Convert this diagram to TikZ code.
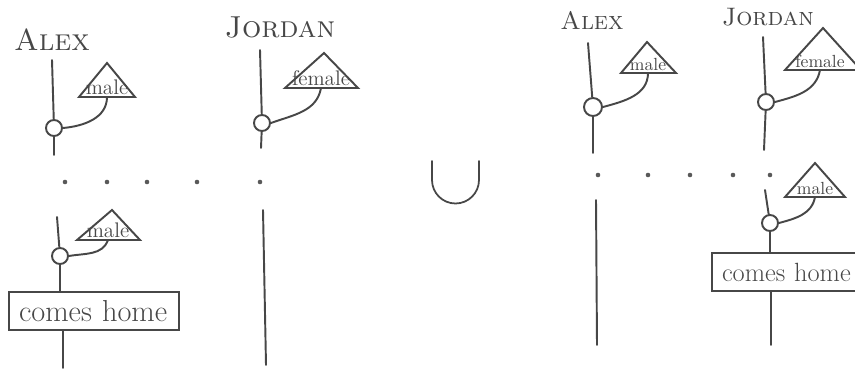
\documentclass[tikz,border=0pt]{standalone}
\usetikzlibrary{positioning}
\tikzset{
  ink/.style={draw=black!72, line width=1.1pt, line cap=round},
  who/.style={font=\LARGE\scshape, text=black!72},
  whosmall/.style={font=\Large\scshape, text=black!72},
  event/.style={circle, ink, inner sep=0pt, minimum size=0.32cm},
  kind/.style={font=\large, text=black!72, inner sep=1pt, anchor=south},
  action/.style={rectangle, ink, font=\LARGE, text=black!72, align=left,
    text width=3cm, inner xsep=0.2cm, inner ysep=0pt, minimum height=0.76cm},
  tick/.style={circle, fill=black!65, inner sep=0pt, minimum size=2.6pt}
}
\begin{document}
\begin{tikzpicture}[x=0.02cm, y=-0.02cm]
    \useasboundingbox (0,0) rectangle (855,372);

    % Linke Seite: Namen
    \node[who] (alexL) at (52,40) {Alex};
    \node[who] (jordanL) at (280,27) {Jordan};

    % Alex oben
    \coordinate (aL1) at (52,60);
    \coordinate (aL2) at (54,155);
    \node[event] (c1) at (54,128) {};
    \draw[ink] (aL1) -- (c1);
    \draw[ink] (c1) -- (aL2);
    \draw[ink] (107,63) -- (79,97) -- (135,97) -- cycle;
    \node[kind] (k1) at (107,97) {male};
    \draw[ink] (k1.south) to[out=-90, in=5] (c1.east);

    % Jordan oben
    \coordinate (jL1) at (260,50);
    \coordinate (jL2) at (261,148);
    \node[event] (c2) at (262,123) {};
    \draw[ink] (jL1) -- (c2);
    \draw[ink] (c2) -- (jL2);
    \draw[ink] (324,53) -- (285,88) -- (358,88) -- cycle;
    \node[kind] (k2) at (321,88) {female};
    \draw[ink] (k2.south) to[out=-100, in=20] (c2.east);

    % Punkte
    \foreach \x in {65,107,147,197,260}
        \node[tick] at (\x,182) {};

    % Alex unten
    \coordinate (aL3) at (57,217);
    \coordinate (aL4) at (63,368);
    \node[event] (c3) at (60,256) {};
    \node[action] (b1) at (94,311) {comes home};
    \draw[ink] (aL3) -- (c3);
    \draw[ink] (c3) -- (c3 |- b1.north);
    \draw[ink] (b1.south -| aL4) -- (aL4);
    \draw[ink] (112,210) -- (77,240) -- (140,240) -- cycle;
    \node[kind] (k3) at (108,240) {male};
    \draw[ink] (k3.south) to[out=-110, in=10] (c3.east);

    % Jordan unten
    \coordinate (jL3) at (263,210);
    \coordinate (jL4) at (266,365);
    \draw[ink] (jL3) -- (jL4);

    % Vereinigung
    \draw[ink, line width=1pt] (432,161) -- (432,180) arc[start angle=180, end angle=0, radius=23.5] -- (479,161);

    % Rechte Seite: Namen
    \node[whosmall] (alexR) at (592,20) {Alex};
    \node[whosmall] (jordanR) at (768,17) {Jordan};

    % Alex rechts
    \coordinate (aR1) at (588,43);
    \coordinate (aR2) at (593,153);
    \coordinate (aR3) at (596,200);
    \coordinate (aR4) at (597,345);
    \node[event, minimum size=0.36cm] (c4) at (593,107) {};
    \draw[ink] (aR1) -- (c4);
    \draw[ink] (c4) -- (aR2);
    \draw[ink] (aR3) -- (aR4);
    \draw[ink] (647,42) -- (621,73) -- (676,73) -- cycle;
    \node[kind, font=\normalsize] (k4) at (648,73) {male};
    \draw[ink] (k4.south) to[out=-90, in=15] (c4.east);

    % Jordan rechts oben
    \coordinate (jR1) at (763,37);
    \coordinate (jR2) at (764,150);
    \node[event] (c5) at (766,102) {};
    \draw[ink] (jR1) -- (c5);
    \draw[ink] (c5) -- (jR2);
    \draw[ink] (823,28) -- (785,70) -- (861,70) -- cycle;
    \node[kind, font=\normalsize] (k5) at (820,70) {female};
    \draw[ink] (k5.south) to[out=-100, in=15] (c5.east);

    % Punkte rechts
    \foreach \x in {598,648,690,733,770}
        \node[tick] at (\x,175) {};

    % Jordan rechts unten
    \coordinate (jR3) at (765,190);
    \coordinate (jR4) at (771,345);
    \node[event] (c6) at (770,223) {};
    \node[action, font=\fontsize{15}{18}\selectfont] (b2) at (797,272) {comes home};
    \draw[ink] (jR3) -- (c6);
    \draw[ink] (c6) -- (c6 |- b2.north);
    \draw[ink] (b2.south -| jR4) -- (jR4);
    \draw[ink] (815,163) -- (785,197) -- (845,197) -- cycle;
    \node[kind, font=\normalsize] (k6) at (815,197) {male};
    \draw[ink] (k6.south) to[out=-100, in=15] (c6.east);
\end{tikzpicture}
\end{document}
